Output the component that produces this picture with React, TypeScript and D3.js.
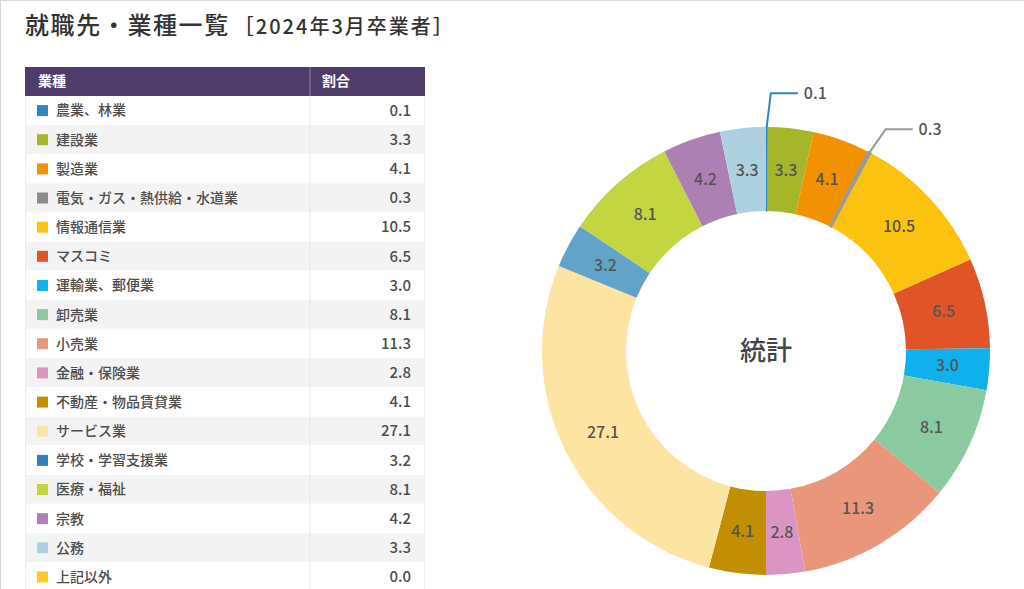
import React from "react";
import * as d3 from "d3";

const categories = [
  "農業、林業",
  "建設業",
  "製造業",
  "電気・ガス・熱供給・水道業",
  "情報通信業",
  "マスコミ",
  "運輸業、郵便業",
  "卸売業",
  "小売業",
  "金融・保険業",
  "不動産・物品賃貸業",
  "サービス業",
  "学校・学習支援業",
  "医療・福祉",
  "宗教",
  "公務",
  "上記以外",
];

const values = [0.1, 3.3, 4.1, 0.3, 10.5, 6.5, 3.0, 8.1, 11.3, 2.8, 4.1, 27.1, 3.2, 8.1, 4.2, 3.3, 0.0];

const sliceColors = [
  "#2f86c2", "#a6b62a", "#f39200", "#9a9a9a", "#fcc210", "#e05428",
  "#0fb0ec", "#8bc9a0", "#e9967b", "#db95c3", "#c28f00", "#fde4a2",
  "#62a3c9", "#c3d641", "#ad80b4", "#aed1e1", "#ffc928",
];

const swatchColors = [
  "#2f86c2", "#a6b62a", "#f39200", "#8c8c8c", "#fcc210", "#e05428",
  "#0fb0ec", "#8bc9a0", "#e9967b", "#db95c3", "#c28f00", "#fde4a2",
  "#2f80bf", "#c3d641", "#ad80b4", "#aed1e1", "#ffc928",
];

const titleMain = "就職先・業種一覧";
const titleSub = "［2024年3月卒業者］";
const headerLabels = ["業種", "割合"];
const centerLabel = "統計";

const FONT = "'Noto Sans CJK JP', 'Noto Sans', sans-serif";

export default function App() {
  const W = 1024;
  const H = 589;

  // table geometry
  const tx0 = 25;
  const tx1 = 425;
  const tCol = 310;
  const headerTop = 67;
  const headerH = 29;
  const rowH = 29.15;
  const rowY = d3.scaleLinear().domain([0, 1]).range([headerTop + headerH, headerTop + headerH + rowH]);

  // donut geometry
  const cx = 766;
  const cy = 351;
  const rIn = 140;
  const rOut = 224;

  const data = categories.map((c, i) => ({ name: c, value: values[i], i }));
  const pie = d3.pie<any>().sort(null).value((d: any) => d.value);
  const arcs = pie(data);
  const arcGen = d3.arc<any>().innerRadius(rIn).outerRadius(rOut);

  // outside labels for tiny slices
  const outside = arcs
    .filter((a) => a.data.value > 0 && a.data.value < 1)
    .map((a) => {
      const mid = (a.startAngle + a.endAngle) / 2;
      const ax = Math.sin(mid) * rOut;
      const ay = -Math.cos(mid) * rOut;
      const bx = Math.sin(mid) * (rOut + 26);
      const by = -Math.cos(mid) * (rOut + 26);
      return { a, ax, ay, bx, by, ly: by };
    })
    .sort((p, q) => q.ly - p.ly);
  // simple overlap avoidance: push upper labels upward
  for (let k = 1; k < outside.length; k++) {
    const prev = outside[k - 1];
    if (prev.ly - outside[k].ly < 36) outside[k].ly = prev.ly - 36;
  }

  return (
    <svg
      width={W}
      height={H}
      style={{ position: "absolute", left: 0, top: 0, background: "#fff" }}
      fontFamily={FONT}
    >
      <rect x={0} y={0} width={W} height={H} fill="#fff" />
      <line x1={0} y1={0.5} x2={W} y2={0.5} stroke="#d9d9d9" />
      <line x1={0.5} y1={0} x2={0.5} y2={H} stroke="#d9d9d9" />

      {/* Title */}
      <text x={25} y={34} fill="#333" fontSize={24} fontWeight={500} letterSpacing={1.6}>
        {titleMain}
        <tspan dx={4} fontSize={20} fontWeight={500} letterSpacing={2}>
          {titleSub}
        </tspan>
      </text>

      {/* Table */}
      <g>
        <rect x={tx0} y={headerTop} width={tx1 - tx0} height={headerH} fill="#4f3c6b" />
        <line x1={tCol} y1={headerTop} x2={tCol} y2={headerTop + headerH} stroke="#8d80a3" strokeWidth={1} />
        <text x={38} y={headerTop + headerH / 2} dy="0.35em" fill="#fff" fontSize={14} fontWeight={700}>
          {headerLabels[0]}
        </text>
        <text x={322} y={headerTop + headerH / 2} dy="0.35em" fill="#fff" fontSize={14} fontWeight={700}>
          {headerLabels[1]}
        </text>
        {categories.map((c, i) => {
          const y0 = rowY(i);
          const ym = y0 + rowH / 2;
          return (
            <g key={c}>
              <rect x={tx0} y={y0} width={tx1 - tx0} height={rowH} fill={i % 2 === 0 ? "#ffffff" : "#f3f3f3"} />
              <line x1={tx0} y1={y0 + rowH} x2={tx1} y2={y0 + rowH} stroke="#ffffff" strokeWidth={1} />
              <rect x={37} y={ym - 5.5} width={11} height={11} fill={swatchColors[i]} />
              <text x={56} y={ym} dy="0.35em" fill="#4d4d4d" fontSize={14} fontWeight={500}>
                {c}
              </text>
              <text x={411} y={ym} dy="0.35em" fill="#4d4d4d" fontSize={15} fontWeight={500} textAnchor="end">
                {values[i].toFixed(1)}
              </text>
            </g>
          );
        })}
        <line x1={tCol} y1={headerTop + headerH} x2={tCol} y2={H} stroke="#e8e8ef" strokeWidth={1} />
        <line x1={tx0 + 0.5} y1={headerTop + headerH} x2={tx0 + 0.5} y2={H} stroke="#ececf2" strokeWidth={1} />
        <line x1={tx1 - 0.5} y1={headerTop + headerH} x2={tx1 - 0.5} y2={H} stroke="#ececf2" strokeWidth={1} />
      </g>

      {/* Donut */}
      <g transform={`translate(${cx},${cy})`}>
        {arcs.map((a) => (
          <path
            key={a.data.name}
            d={arcGen(a) || ""}
            fill={sliceColors[a.data.i]}
            stroke={a.data.value > 0 && a.data.value < 1 ? sliceColors[a.data.i] : "none"}
            strokeWidth={a.data.value > 0 && a.data.value < 1 ? 1.2 : 0}
          />
        ))}
        {arcs
          .filter((a) => a.data.value >= 1)
          .map((a) => {
            const [x, y] = arcGen.centroid(a);
            return (
              <text
                key={"l" + a.data.name}
                x={x}
                y={y}
                dy="0.35em"
                textAnchor="middle"
                fill="#555"
                fontSize={16}
                fontWeight={500}
              >
                {a.data.value.toFixed(1)}
              </text>
            );
          })}
        {outside.map((o) => {
          const elbowX = o.bx + 4;
          const ex = elbowX + 27;
          const pts = [
            [o.ax, o.ay],
            [elbowX, o.ly],
            [ex, o.ly],
          ];
          return (
            <g key={"o" + o.a.data.name}>
              <path
                d={d3.line()(pts as [number, number][]) || ""}
                fill="none"
                stroke={sliceColors[o.a.data.i]}
                strokeWidth={2}
              />
              <text x={ex + 6} y={o.ly} dy="0.35em" fill="#555" fontSize={16} fontWeight={500}>
                {o.a.data.value.toFixed(1)}
              </text>
            </g>
          );
        })}
        <text x={0} y={0} dy="0.35em" textAnchor="middle" fill="#444" fontSize={26} fontWeight={500}>
          {centerLabel}
        </text>
      </g>
    </svg>
  );
}
